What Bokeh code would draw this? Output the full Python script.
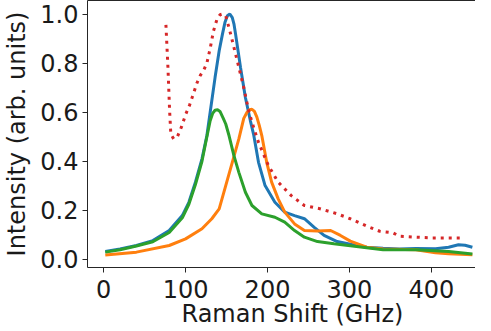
from bokeh.plotting import figure
from bokeh.models import FixedTicker, LinearAxis, Range1d, CustomJSTickFormatter, Title
from bokeh.embed import file_html
from bokeh.resources import INLINE

# ---- data ----
blue_x = [2, 20, 40, 60, 80, 96, 104, 112, 120, 126, 130, 136, 141, 145, 148, 151, 154,
          157, 159, 161, 167, 173, 179, 183, 189, 197, 209, 221, 233, 245, 257, 269, 285,
          301, 321, 341, 361, 381, 405, 421, 433, 441, 450]
blue_y = [0.033, 0.043, 0.057, 0.077, 0.118, 0.179, 0.233, 0.315, 0.41, 0.505, 0.60,
          0.742, 0.85, 0.918, 0.965, 0.993, 1.0, 0.985, 0.96, 0.918, 0.783, 0.66, 0.566,
          0.51, 0.396, 0.301, 0.233, 0.193, 0.179, 0.166, 0.131, 0.098, 0.073, 0.062,
          0.05, 0.046, 0.043, 0.045, 0.044, 0.05, 0.06, 0.058, 0.05]

orange_x = [2, 40, 80, 100, 120, 132, 141, 149, 157, 165, 171, 175, 178, 181, 184, 187,
            190, 193, 199, 205, 213, 221, 233, 245, 261, 277, 289, 301, 321, 341, 381,
            405, 421, 450]
orange_y = [0.018, 0.03, 0.057, 0.084, 0.125, 0.166, 0.206, 0.301, 0.396, 0.491, 0.575,
            0.600, 0.610, 0.612, 0.603, 0.580, 0.545, 0.505, 0.396, 0.315, 0.247, 0.193,
            0.145, 0.118, 0.116, 0.118, 0.098, 0.075, 0.05, 0.043, 0.04, 0.027, 0.023,
            0.019]

green_x = [2, 20, 40, 60, 80, 96, 104, 112, 120, 126, 130, 133, 136, 139, 142, 146, 149,
           153, 159, 165, 173, 181, 193, 209, 221, 233, 245, 261, 281, 301, 341, 381, 421,
           450]
green_y = [0.03, 0.04, 0.055, 0.072, 0.11, 0.17, 0.225, 0.305, 0.40, 0.50, 0.565, 0.595,
           0.608, 0.61, 0.603, 0.575, 0.552, 0.505, 0.423, 0.355, 0.274, 0.22, 0.186,
           0.172, 0.152, 0.118, 0.091, 0.073, 0.064, 0.056, 0.04, 0.04, 0.033, 0.022]

red_x = [76, 78.5, 80.5, 82, 85.5, 90, 95, 100, 105, 110, 114, 118, 122, 126, 130, 134,
         138, 142, 145, 149, 155, 159, 165, 171, 177, 183, 189, 201, 213, 229, 245, 265,
         285, 301, 321, 337, 353, 361, 381, 401, 420, 440]
red_y = [0.956, 0.78, 0.606, 0.51, 0.491, 0.50, 0.54, 0.59, 0.63, 0.68, 0.72, 0.75,
         0.77, 0.80, 0.86, 0.93, 0.975, 0.997, 1.0, 0.993, 0.918, 0.864, 0.783, 0.70,
         0.606, 0.538, 0.477, 0.383, 0.315, 0.26, 0.22, 0.206, 0.186, 0.166, 0.136,
         0.115, 0.109, 0.095, 0.091, 0.088, 0.088, 0.088]

x_ticks = [0, 100, 200, 300, 400]
y_ticks = [0.0, 0.2, 0.4, 0.6, 0.8, 1.0]
x_label = "Raman Shift (GHz)"
y_label = "Intensity (arb. units)"

FONT = "DejaVu Sans"
FS = "24px"
AX = "#262626"
TXT = "#1a1a1a"

p = figure(width=475, height=331, output_backend="svg", toolbar_location=None,
           x_range=Range1d(-19.7, 453.8), y_range=Range1d(-0.0326, 1.055),
           min_border_left=80, min_border_top=0, min_border_right=0, min_border_bottom=64)
p.background_fill_color = "white"
p.border_fill_color = "white"
p.grid.visible = False
p.outline_line_color = None

for ax in (p.xaxis[0], p.yaxis[0]):
    ax.axis_line_color = AX
    ax.axis_line_width = 1
    ax.major_tick_line_color = AX
    ax.major_tick_out = 5
    ax.major_tick_in = 0
    ax.minor_tick_line_color = None
    ax.major_label_text_font = FONT
    ax.major_label_text_font_size = FS
    ax.major_label_text_color = TXT
    ax.axis_label_text_font = FONT
    ax.axis_label_text_font_size = FS
    ax.axis_label_text_font_style = "normal"
    ax.axis_label_text_color = TXT

p.xaxis[0].ticker = FixedTicker(ticks=x_ticks)
p.yaxis[0].ticker = FixedTicker(ticks=y_ticks)
p.yaxis[0].formatter = CustomJSTickFormatter(code="return tick.toFixed(1);")
p.yaxis[0].axis_label = y_label
p.xaxis[0].major_label_standoff = 7
p.yaxis[0].major_label_standoff = 4
p.yaxis[0].axis_label_standoff = 6

xt = Title(text=x_label, align="left", offset=94, text_font=FONT, text_font_size=FS,
           text_font_style="normal", text_color=TXT, standoff=0)
try:
    xt.standoff = -6
except Exception:
    xt.standoff = 0
p.add_layout(xt, "below")

top = LinearAxis(ticker=FixedTicker(ticks=[]), major_label_text_font_size="0px",
                 major_tick_out=0, major_tick_in=0, axis_line_color=AX,
                 axis_line_width=1, minor_tick_line_color=None)
p.add_layout(top, "above")

p.line(blue_x, blue_y, line_color="#1f77b4", line_width=3)
p.line(orange_x, orange_y, line_color="#ff7f0e", line_width=3)
p.line(green_x, green_y, line_color="#2ca02c", line_width=3)
p.line(red_x, red_y, line_color="#d62728", line_width=3, line_dash="3 5")

open("out.html", "w").write(file_html(p, INLINE))
